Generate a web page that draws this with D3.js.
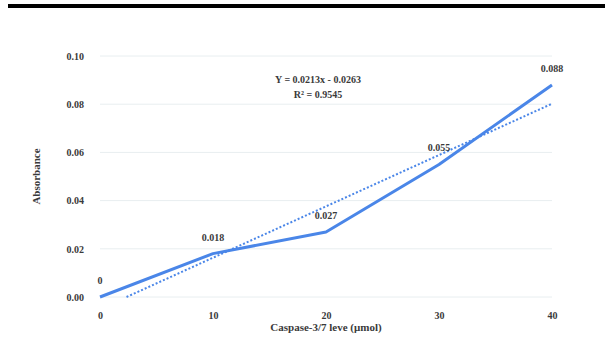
<!DOCTYPE html>
<html>
<head>
<meta charset="utf-8">
<script src="https://cdn.jsdelivr.net/npm/d3@7"></script>
<style>
  body { margin: 0; background: #fff; }
  text { font-family: "Liberation Serif", serif; font-weight: bold; fill: #3a3a3a; }
</style>
</head>
<body>
<div id="chart"></div>
<script>
const svgWidth = 605;
const svgHeight = 338;
const margins = {top: 56, right: 53, bottom: 41, left: 100};

// data
const levels = [0, 10, 20, 30, 40];
const absorbance = [0, 0.018, 0.027, 0.055, 0.088];
const pointLabels = ["0", "0.018", "0.027", "0.055", "0.088"];
const yTicks = [0, 0.02, 0.04, 0.06, 0.08, 0.10];
const xTicks = [0, 10, 20, 30, 40];
// excel linear trendline (x is point index 1..5)
const trendSlope = 0.0213;
const trendIntercept = -0.0263;
const equationLines = ["Y = 0.0213x - 0.0263", "R² = 0.9545"];

const svg = d3.select("#chart")
  .append("svg")
  .attr("width", svgWidth)
  .attr("height", svgHeight);

// thick rule across the top
svg.append("rect")
  .attr("x", 8).attr("y", 4)
  .attr("width", svgWidth - 8).attr("height", 4)
  .attr("fill", "#000");

const xScale = d3.scaleLinear()
  .domain([0, 40])
  .range([margins.left, svgWidth - margins.right]);

const yScale = d3.scaleLinear()
  .domain([0, 0.10])
  .range([svgHeight - margins.bottom, margins.top]);

// gridlines
svg.append("g")
  .selectAll("line")
  .data(yTicks)
  .join("line")
    .attr("x1", xScale(0))
    .attr("x2", xScale(40))
    .attr("y1", d => yScale(d))
    .attr("y2", d => yScale(d))
    .attr("stroke", "#e8eef0")
    .attr("stroke-width", 1);

// y axis labels
const yAxis = d3.axisLeft(yScale).tickValues(yTicks).tickFormat(d3.format(".2f")).tickSize(0).tickPadding(16);
svg.append("g")
  .attr("transform", "translate(" + margins.left + ",0)")
  .call(yAxis)
  .call(g => g.select(".domain").remove())
  .selectAll("text")
    .attr("font-size", "10px")
    .attr("font-family", null)
    .attr("fill", null);

// x axis labels
const xAxis = d3.axisBottom(xScale).tickValues(xTicks).tickSize(0).tickPadding(15);
svg.append("g")
  .attr("transform", "translate(0," + yScale(0) + ")")
  .call(xAxis)
  .call(g => g.select(".domain").remove())
  .selectAll("text")
    .attr("font-size", "10px")
    .attr("font-family", null)
    .attr("fill", null);

// axis titles
svg.append("text")
  .attr("transform", "translate(40," + ((yScale(0) + yScale(0.1)) / 2) + ") rotate(-90)")
  .attr("text-anchor", "middle")
  .attr("font-size", "11px")
  .text("Absorbance");

svg.append("text")
  .attr("x", (xScale(0) + xScale(40)) / 2)
  .attr("y", 331)
  .attr("text-anchor", "middle")
  .attr("font-size", "11px")
  .text("Caspase-3/7 leve (μmol)");

// trendline: index i = level/10 + 1, clipped at y = 0
const trendStart = ((-trendIntercept / trendSlope) - 1) * 10;
const trendLevels = [trendStart, 40];
const trend = trendLevels.map(x => ({x: x, y: trendSlope * (x / 10 + 1) + trendIntercept}));

svg.append("path")
  .datum(trend)
  .attr("fill", "none")
  .attr("stroke", "#4a86e8")
  .attr("stroke-width", 2)
  .attr("stroke-dasharray", "2,2")
  .attr("d", d3.line().x(d => xScale(d.x)).y(d => yScale(d.y)));

// data line
const points = levels.map((l, i) => ({x: l, y: absorbance[i], label: pointLabels[i]}));

svg.append("path")
  .datum(points)
  .attr("fill", "none")
  .attr("stroke", "#4a86e8")
  .attr("stroke-width", 3)
  .attr("stroke-linejoin", "round")
  .attr("d", d3.line().x(d => xScale(d.x)).y(d => yScale(d.y)));

// data labels
svg.append("g")
  .selectAll("text")
  .data(points)
  .join("text")
    .attr("x", d => xScale(d.x))
    .attr("y", d => yScale(d.y) - 13)
    .attr("text-anchor", "middle")
    .attr("font-size", "10px")
    .text(d => d.label);

// equation
svg.append("g")
  .selectAll("text")
  .data(equationLines)
  .join("text")
    .attr("x", 318)
    .attr("y", (d, i) => 83 + i * 15)
    .attr("text-anchor", "middle")
    .attr("font-size", "10px")
    .text(d => d);
</script>
</body>
</html>
